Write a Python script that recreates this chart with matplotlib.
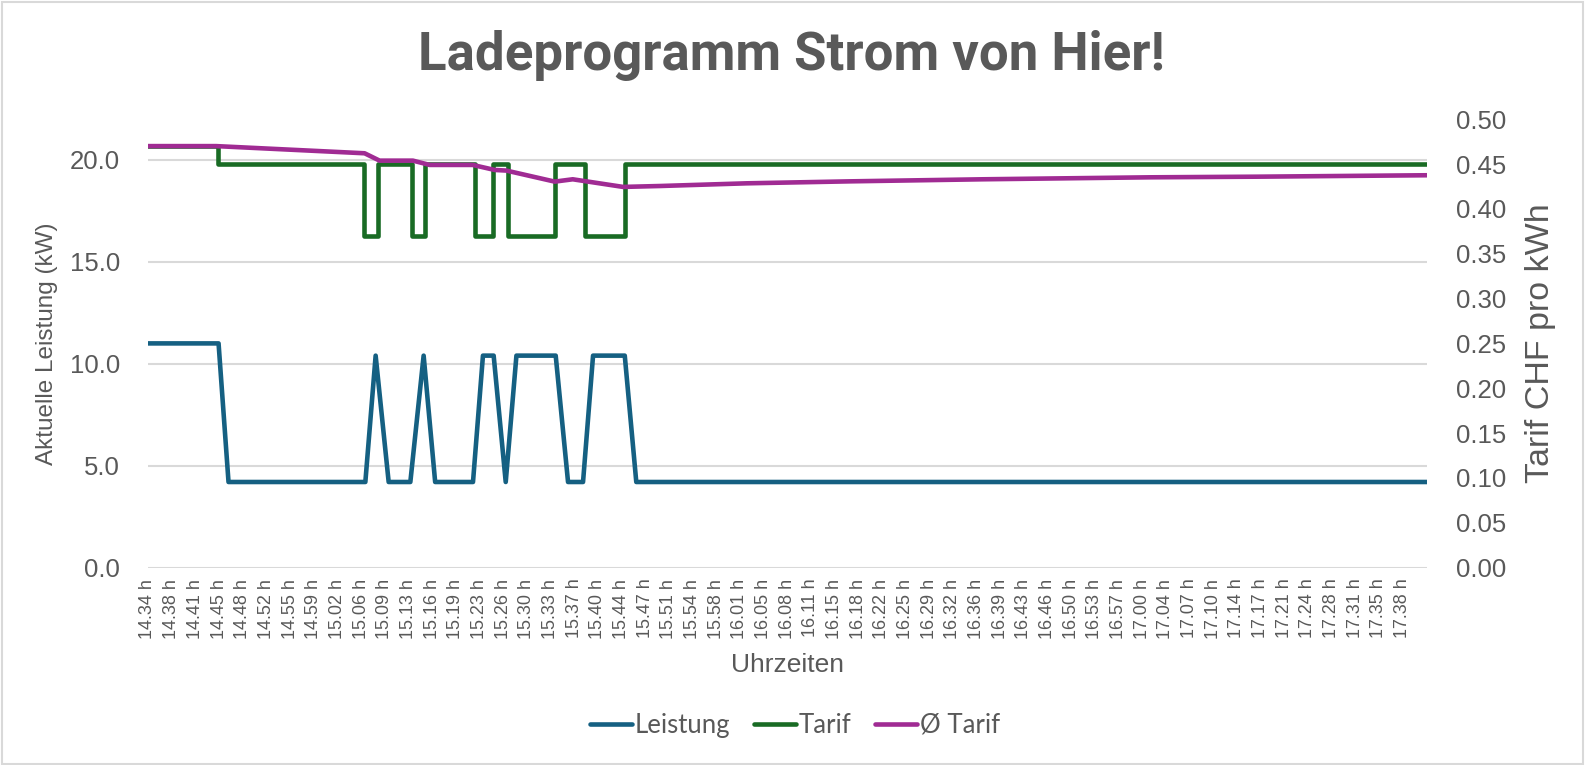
import matplotlib.pyplot as plt
import numpy as np
from matplotlib.patches import Rectangle

# minutes after 14:34
leistung_t = [0.0, 10.35, 11.81, 31.88, 33.39, 35.30, 38.48, 40.43, 42.12, 47.67, 49.13,
              50.70, 52.47, 54.04, 59.80, 61.61, 63.81, 65.28, 69.93, 71.62, 187.6]
leistung_kw = [11.0, 11.0, 4.2, 4.2, 10.4, 4.2, 4.2, 10.4, 4.2, 4.2, 10.4,
               10.4, 4.2, 10.4, 10.4, 4.2, 4.2, 10.4, 10.4, 4.2, 4.2]

tarif_t = [0.0, 10.30, 31.73, 33.78, 38.67, 40.58, 47.96, 50.66, 52.86, 59.70, 64.10, 69.97, 187.6]
tarif_chf = [0.47, 0.45, 0.37, 0.45, 0.37, 0.45, 0.37, 0.45, 0.37, 0.45, 0.37, 0.45, 0.45]

avg_t = [0.0, 10.0, 31.77, 33.97, 38.86, 41.31, 47.62, 50.85, 52.57, 59.66, 62.30, 69.68,
         75.07, 87.79, 102.95, 122.47, 146.97, 162.63, 187.6]
avg_chf = [0.470, 0.470, 0.462, 0.4538, 0.4538, 0.449, 0.449, 0.4434, 0.4427, 0.4304, 0.433,
           0.4245, 0.4255, 0.4285, 0.4307, 0.4330, 0.4352, 0.4359, 0.4375]

labels = ["14.34", "14.38", "14.41", "14.45", "14.48", "14.52", "14.55", "14.59",
          "15.02", "15.06", "15.09", "15.13", "15.16", "15.19", "15.23", "15.26", "15.30",
          "15.33", "15.37", "15.40", "15.44", "15.47", "15.51", "15.54", "15.58",
          "16.01", "16.05", "16.08", "16.11", "16.15", "16.18", "16.22", "16.25", "16.29",
          "16.32", "16.36", "16.39", "16.43", "16.46", "16.50", "16.53", "16.57",
          "17.00", "17.04", "17.07", "17.10", "17.14", "17.17", "17.21", "17.24", "17.28",
          "17.31", "17.35", "17.38"]

BLUE = "#156082"
GREEN = "#196B24"
PURPLE = "#A02B93"
GREY = "#595959"
GRID = "#D9D9D9"
FONT = ["Liberation Sans", "DejaVu Sans"]

def to_min(s):
    h, m = s.split(".")
    return int(h) * 60 + int(m)

span = to_min(labels[-1]) - to_min(labels[0])
tick_pos = np.linspace(0, span, len(labels))

fig = plt.figure(figsize=(15.85, 7.65), dpi=100)
fig.patches.append(Rectangle((0.001, 0.001), 0.998, 0.997, transform=fig.transFigure,
                             fill=False, edgecolor=GRID, lw=1.5))

ax = fig.add_axes([148 / 1585, 1 - 567.6 / 765, 1279 / 1585, 448.4 / 765])
ax2 = ax.twinx()

kw = dict(lw=3.3, solid_joinstyle="round", solid_capstyle="round")
l1, = ax.plot(leistung_t, leistung_kw, color=BLUE, label="Leistung", **kw)
l2, = ax2.plot(tarif_t, tarif_chf, color=GREEN, drawstyle="steps-post", label="Tarif", **kw)
l3, = ax2.plot(avg_t, avg_chf, color=PURPLE, label="Ø Tarif", **kw)

ax.set_xlim(0, leistung_t[-1])
ax.set_ylim(0, 22)
ax2.set_ylim(0, 0.5)
ax.set_yticks(np.arange(0, 21, 5))
ax.set_yticklabels([f"{v:.1f}" for v in np.arange(0, 21, 5)])
ax2.set_yticks(np.arange(0, 0.51, 0.05))
ax2.set_yticklabels([f"{v:.2f}" for v in np.arange(0, 0.51, 0.05)])
ax.set_xticks(tick_pos)
ax.set_xticklabels([s + " h" for s in labels], rotation=90)

ax.grid(axis="y", color=GRID, lw=1.5)
ax.set_axisbelow(True)
for a in (ax, ax2):
    for sp in a.spines.values():
        sp.set_visible(False)
    a.tick_params(length=0, colors=GREY)

ax.tick_params(axis="y", labelsize=18.5, pad=20)
ax2.tick_params(axis="y", labelsize=18.5, pad=21)
ax.tick_params(axis="x", labelsize=13, pad=8)
for t in ax.get_xticklabels() + ax.get_yticklabels() + ax2.get_yticklabels():
    t.set_family(FONT)

ax.set_ylabel("Aktuelle Leistung (kW)", fontsize=17.5, color=GREY, family=FONT)
ax.yaxis.set_label_coords(-0.070, 0.5)
ax2.set_ylabel("Tarif CHF pro kWh", fontsize=24.5, color=GREY, family=FONT)
ax2.yaxis.set_label_coords(1.077, 0.5)
ax.set_xlabel("Uhrzeiten", fontsize=19, color=GREY, family=FONT)
ax.xaxis.set_label_coords(0.5, -0.19)

fig.text(0.4995, 0.927, "Ladeprogramm Strom von Hier!", ha="center", va="center",
         fontsize=38, fontweight="bold", color=GREY,
         family=["Roboto", "DejaVu Sans"])

leg = fig.legend(handles=[l1, l2, l3], loc="center", bbox_to_anchor=(0.5015, 0.052), ncol=3,
                 frameon=False, handlelength=1.65, handletextpad=0.1, columnspacing=0.9,
                 prop={"family": ["Lato", "DejaVu Sans"], "size": 18.5})
for t in leg.get_texts():
    t.set_color(GREY)

fig.savefig("out.png", dpi=100)
